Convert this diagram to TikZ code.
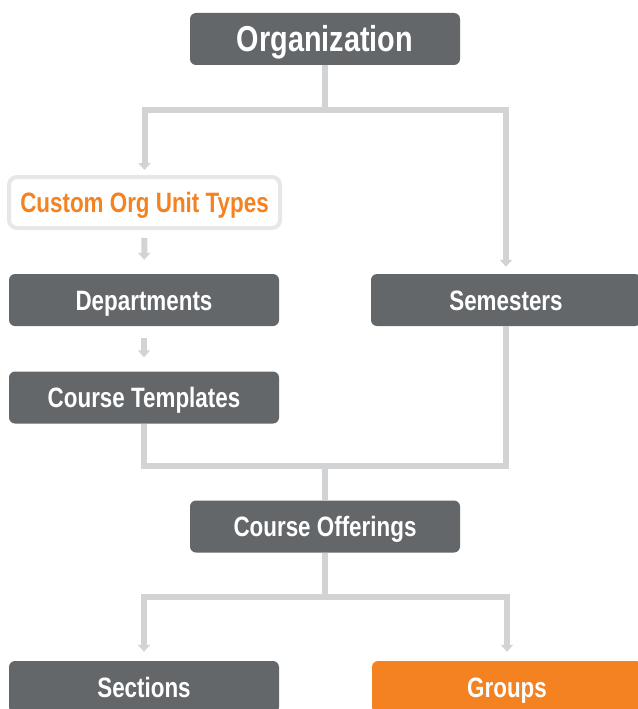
\documentclass[tikz,border=0pt]{standalone}
\usepackage{fontspec}
\setmainfont{Liberation Sans}[FakeStretch=0.8]
\usetikzlibrary{positioning,arrows.meta}

\definecolor{boxgray}{HTML}{63676A}
\definecolor{unitorange}{HTML}{F58220}
\definecolor{linkgray}{HTML}{D1D3D4}
\definecolor{rimgray}{HTML}{E6E7E8}

\begin{document}
\begin{tikzpicture}[
		x=1pt,y=-1pt,
		>={Triangle[width=12pt,length=7pt]},
		every node/.style={
			font=\bfseries\fontsize{28}{30}\selectfont,
			align=center,
			text height=20pt,
			text depth=0pt
		},
		unitbox/.style={
			fill=boxgray,
			text=white,
			rounded corners=6pt,
			minimum width=270pt,
			minimum height=52pt,
			inner sep=0pt
		},
		link/.style={
			draw=linkgray,
			line width=6pt
		},
		linkarrow/.style={
			link,
			->
		}
		]
		
		\useasboundingbox (0,0) rectangle (637,709);
		
		%--------------------------------------------------
		% Boxes
		%--------------------------------------------------
		
		\node[unitbox,font=\bfseries\fontsize{36}{38}\selectfont,text height=25.5pt] (org) at (325,39) {Organization};
		\node[unitbox,fill=white,draw=rimgray,line width=4pt,rounded corners=8pt,
			minimum width=271pt,minimum height=51pt,text=unitorange] (custom) at (144.5,202.5) {Custom Org Unit Types};
		\node[unitbox] (dept) at (144,300) {Departments};
		\node[unitbox] (sem) at (506,300) {Semesters};
		\node[unitbox] (tmpl) at (144,397.5) {Course Templates};
		\node[unitbox] (offer) at (325,526.5) {Course Offerings};
		\node[unitbox] (sect) at (144,687) {Sections};
		\node[unitbox,fill=unitorange] (groups) at (507,687) {Groups};
		
		%--------------------------------------------------
		% Connectors
		%--------------------------------------------------
		
		\coordinate (topbar) at (325,110);
		\coordinate (midbar) at (325,466);
		\coordinate (botbar) at (325,597);
		
		\draw[link] (org.south) -- (topbar);
		\draw[linkarrow,shorten >=5pt] (topbar) -| (custom.north);
		\draw[linkarrow,shorten >=7pt] (topbar) -| (sem.north);
		
		\draw[linkarrow,shorten <=8pt,shorten >=14pt] (custom.south) -- (dept.north);
		\draw[linkarrow,shorten <=12pt,shorten >=14pt] (dept.south) -- (tmpl.north);
		
		\draw[link] (tmpl.south) |- (midbar) -| (sem.south);
		\draw[link] (midbar) -- (offer.north);
		
		\draw[link] (offer.south) -- (botbar);
		\draw[linkarrow,shorten >=9pt] (botbar) -| (sect.north);
		\draw[linkarrow,shorten >=9pt] (botbar) -| (groups.north);
		
	\end{tikzpicture}
\end{document}
